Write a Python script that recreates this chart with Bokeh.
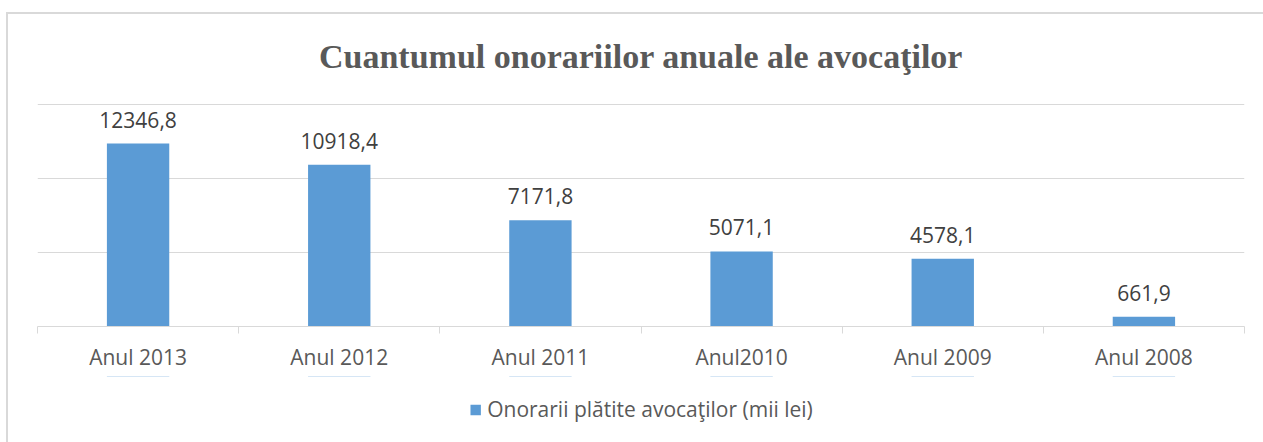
from bokeh.plotting import figure
from bokeh.layouts import column
from bokeh.models import ColumnDataSource, FixedTicker, LabelSet, Range1d, Legend, LegendItem
from bokeh.core.properties import value
from bokeh.embed import file_html
from bokeh.resources import INLINE

categories = ["Anul 2013", "Anul 2012", "Anul 2011", "Anul2010", "Anul 2009", "Anul 2008"]
values = [12346.8, 10918.4, 7171.8, 5071.1, 4578.1, 661.9]
value_labels = [f"{v:.1f}".replace(".", ",") for v in values]
series_name = "Onorarii plătite avocaţilor (mii lei)"
title_text = "Cuantumul onorariilor anuale ale avocaţilor"

xs = [i + 0.5 for i in range(len(categories))]
src = ColumnDataSource(dict(x=xs, top=values, lab=value_labels))

GRAY = "#595959"
LINE = "#D9D9D9"
BAR = "#5B9BD5"

p = figure(output_backend="svg", toolbar_location=None,
           width=1255, height=362,
           x_range=Range1d(0, len(categories)), y_range=Range1d(0, 16000),
           min_border_left=29, min_border_right=19, min_border_top=75, min_border_bottom=50,
           outline_line_color=None, background_fill_color="white", border_fill_color="white")

p.title.text = title_text
p.title.align = "center"
p.title.text_font = "Liberation Serif"
p.title.text_font_style = "bold"
p.title.text_font_size = "34px"
p.title.text_color = GRAY
p.title.standoff = 30

p.vbar(x="x", top="top", width=0.31, source=src, fill_color=BAR, line_color=None)

labels = LabelSet(x="x", y="top", text="lab", source=src, text_align="center",
                  text_baseline="alphabetic", y_offset=16, text_font=value("Open Sans"),
                  text_font_size="21px", text_color="#404040")
p.add_layout(labels)

p.yaxis.visible = False
p.xgrid.visible = False
p.ygrid.ticker = FixedTicker(ticks=[5000, 10000, 15000])
p.ygrid.grid_line_color = LINE
p.ygrid.grid_line_width = 1

ax = p.xaxis[0]
ax.ticker = FixedTicker(ticks=xs, minor_ticks=list(range(len(categories) + 1)))
ax.major_label_overrides = {x: c for x, c in zip(xs, categories)}
ax.major_tick_line_color = None
ax.major_tick_out = 0
ax.minor_tick_line_color = LINE
ax.minor_tick_out = 7
ax.minor_tick_in = 0
ax.axis_line_color = LINE
ax.axis_line_width = 1
ax.major_label_text_font = "Open Sans"
ax.major_label_text_font_size = "21px"
ax.major_label_text_color = GRAY
ax.major_label_standoff = 9

# legend strip below the chart (its bars lie outside its view; only the legend shows)
p2 = figure(output_backend="svg", toolbar_location=None, width=1255, height=66,
            x_range=Range1d(0, len(categories)), y_range=Range1d(-2, -1),
            min_border_left=29, min_border_right=19, min_border_top=0, min_border_bottom=0,
            outline_line_color=None, background_fill_color="white", border_fill_color="white")
p2.axis.visible = False
p2.grid.visible = False
r2 = p2.vbar(x="x", top="top", width=0.31, source=src, fill_color=BAR, line_color=None)
legend = Legend(items=[LegendItem(label=series_name, renderers=[r2])],
                orientation="horizontal", location="center",
                label_text_font="Open Sans", label_text_font_size="21px",
                label_text_color=GRAY, glyph_width=13, glyph_height=13,
                label_standoff=6, border_line_color=None, background_fill_alpha=0,
                margin=0, padding=6)
p2.add_layout(legend, "center")

layout = column(p, p2, spacing=0, margin=(12, 0, 0, 6),
                styles={"border-top": "2px solid #D9D9D9", "border-left": "2px solid #D9D9D9"})

open("out.html", "w").write(file_html(layout, INLINE))
